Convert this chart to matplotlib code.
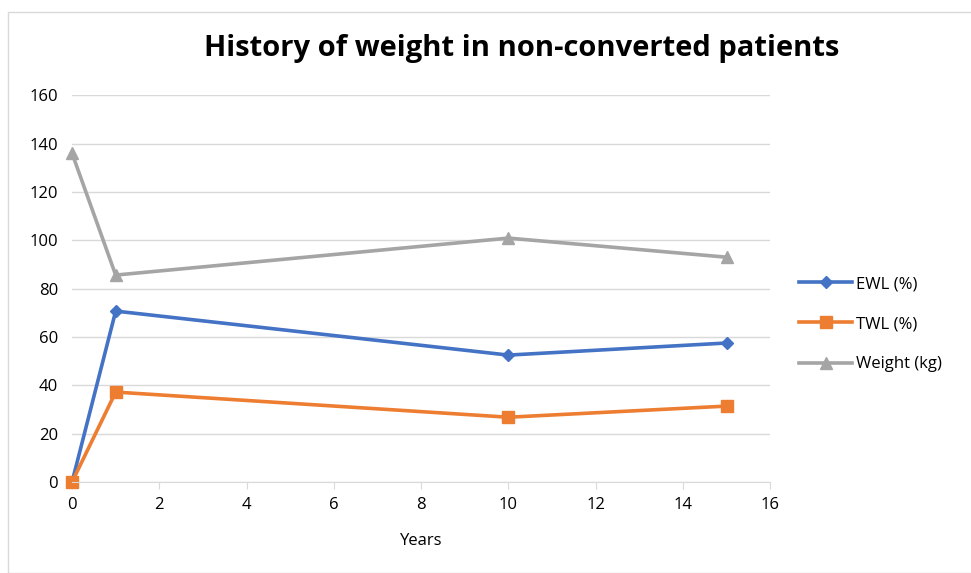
import matplotlib.pyplot as plt
from matplotlib.patches import Rectangle

years = [0, 1, 10, 15]
ewl = [0, 70.7, 52.5, 57.5]
twl = [0, 37.2, 26.8, 31.4]
weight = [136, 85.6, 100.9, 93]
labels = ['EWL (%)', 'TWL (%)', 'Weight (kg)']

plt.rcParams['font.family'] = ['Open Sans', 'DejaVu Sans']

fig = plt.figure(figsize=(9.71, 5.73), dpi=100)
ax = fig.add_axes([0.0742, 0.1588, 0.719, 0.675])

# outer chart frame
fig.patches.append(Rectangle((8 / 971, 0), 1.0, 1 - 12 / 573, transform=fig.transFigure,
                             fill=False, edgecolor='#d9d9d9', linewidth=1))

ax.plot(years, ewl, color='#4472C4', lw=2.6, marker='D', ms=6, label=labels[0])
ax.plot(years, twl, color='#ED7D31', lw=2.6, marker='s', ms=9, label=labels[1])
ax.plot(years, weight, color='#A5A5A5', lw=2.6, marker='^', ms=9, label=labels[2])

ax.set_xlim(0, 16)
ax.set_ylim(0, 160)
ax.set_xticks(range(0, 17, 2))
ax.set_yticks(range(0, 161, 20))
ax.yaxis.grid(True, color='#d9d9d9', lw=1)
ax.set_axisbelow(True)
for s in ['top', 'right', 'left']:
    ax.spines[s].set_visible(False)
ax.spines['bottom'].set_color('#d9d9d9')
ax.tick_params(axis='x', colors='#d9d9d9', length=5, labelcolor='#000000', labelsize=12, pad=6)
ax.tick_params(axis='y', length=0, labelcolor='#000000', labelsize=12, pad=10)
for line in ax.get_lines():
    line.set_clip_on(False)

ax.set_xlabel('Years', fontsize=12, labelpad=14)
fig.text(0.537, 0.915, 'History of weight in non-converted patients', ha='center', va='center',
         fontsize=21, fontweight='bold')

ax.legend(loc='center left', bbox_to_anchor=(1.02, 0.408), frameon=False, fontsize=12,
          handlelength=3.2, labelspacing=1.45, handletextpad=0.2)

fig.savefig('out.png', dpi=100)
